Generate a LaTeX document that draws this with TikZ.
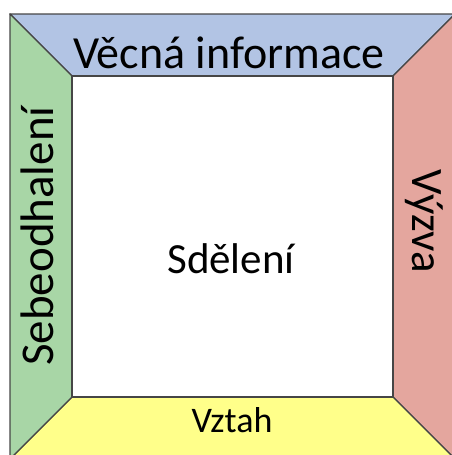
\documentclass[tikz,border=0pt]{standalone}
\usepackage{fontspec}
\setmainfont{Carlito}
\usetikzlibrary{backgrounds}

\definecolor{topblue}{RGB}{178,196,228}
\definecolor{leftgreen}{RGB}{168,214,166}
\definecolor{rightred}{RGB}{228,166,158}
\definecolor{bottomyellow}{RGB}{255,255,138}
\definecolor{edgegray}{RGB}{70,70,70}

\newcommand{\fs}[1]{\fontsize{#1}{#1}\selectfont}

\begin{document}
\begin{tikzpicture}[x=1pt, y=-1pt,
  side/.style={draw=edgegray, line width=1.4pt, line join=round},
  label/.style={inner sep=0pt}]
\useasboundingbox (0,0) rectangle (451,455);
% outer corners
\coordinate (A) at (10,14);
\coordinate (B) at (455,14);
\coordinate (C) at (455,459);
\coordinate (D) at (10,459);
% inner corners
\coordinate (a) at (72,76);
\coordinate (b) at (393,76);
\coordinate (c) at (393,397);
\coordinate (d) at (72,397);
% the four sides
\draw[side, fill=topblue] (A) -- (B) -- (b) -- (a) -- cycle;
\draw[side, fill=rightred] (B) -- (C) -- (c) -- (b) -- cycle;
\draw[side, fill=bottomyellow] (C) -- (D) -- (d) -- (c) -- cycle;
\draw[side, fill=leftgreen] (D) -- (A) -- (a) -- (d) -- cycle;
\draw[side, fill=white] (a) -- (b) -- (c) -- (d) -- cycle;
% texts
\node[label, anchor=base, font=\fs{46}] (vecna) at (229,68) {Věcná informace};
\node[label, anchor=base, font=\fs{36}] (vztah) at (232,432) {Vztah};
\node[label, anchor=base, font=\fs{43}] (sdeleni) at (231,273) {Sdělení};
\node[label, anchor=base, rotate=90, font=\fs{47}] (sebe) at (53,236) {Sebeodhalení};
\node[label, anchor=base, rotate=-90, font=\fs{45}] (vyzva) at (412,221) {Výzva};
\end{tikzpicture}
\end{document}
